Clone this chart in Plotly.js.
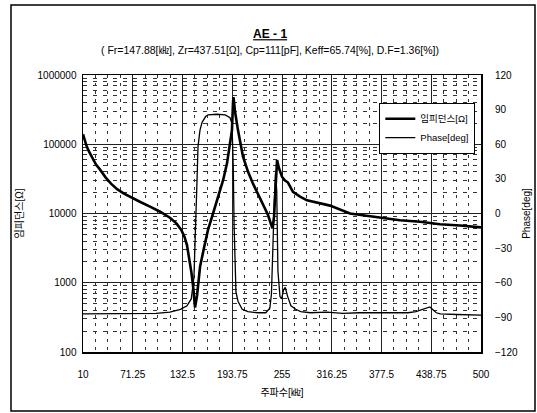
<!DOCTYPE html>
<html>
<head>
<meta charset="utf-8">
<script src="https://cdn.plot.ly/plotly-3.0.1.min.js"></script>
<style>html,body{margin:0;padding:0;background:#fff;}#chart{width:537px;height:413px;}</style>
</head>
<body>
<div id="chart"></div>
<script>
// ---- data ----
const freqZ = [10, 12, 14, 17, 21, 26, 31, 38, 44.5, 52, 60, 70, 80, 92.5, 105, 117, 125, 131, 135, 138, 141, 143.5, 145.5, 147.9, 150.4, 154.1, 159.0, 163.9, 170.1, 176.2, 182.4, 187.3, 191.0, 193.4, 194.7, 195.3, 197.1, 200.8, 207.0, 213.2, 219.3, 225.5, 231.6, 237.8, 241.5, 243.3, 245.2, 246.4, 247.6, 248.9, 251.3, 255.0, 258.7, 262.4, 268.5, 277.2, 285.8, 298.1, 314.1, 338.7, 375.7, 400.3, 424.9, 449.5, 474.2, 500];
const impedance = [140000, 115000, 97000, 80000, 64000, 51000, 43000, 33000, 27000, 22500, 19500, 16800, 14800, 12600, 10600, 8700, 7200, 5800, 4600, 3500, 2200, 1400, 900, 440, 650, 1700, 3200, 5800, 10000, 17000, 30000, 53000, 100000, 160000, 400000, 480000, 300000, 160000, 66000, 40000, 27000, 19000, 14000, 9500, 7000, 6100, 9000, 20000, 40000, 59000, 45000, 34000, 30000, 28000, 20500, 17500, 15500, 14500, 13000, 10000, 8800, 8000, 7600, 7000, 6700, 6300];

const freqP = [10, 50, 100, 117, 130, 138, 143.3, 146.6, 148, 149.5, 150.4, 151.6, 154, 156.6, 161, 164, 175, 185, 191, 193.4, 195, 196, 197, 198.3, 200.8, 206, 213, 225, 235, 240, 242, 243.5, 245.5, 247, 248.5, 250, 252.5, 254.5, 257, 259, 262, 266, 272, 278, 290, 310, 330, 350, 370, 390, 410, 420, 430, 437, 445, 450, 470, 500];
const phase = [-87, -87, -86.5, -85.5, -83, -80, -74, -55, -30, 0, 29, 58, 72, 79, 84, 85.5, 86, 85.5, 83, 78, 40, -10, -50, -68, -76, -83, -85, -86, -86, -82, -70, -30, 10, 35, 20, -50, -72, -74, -66, -64, -72, -80, -83, -85, -86, -85.5, -86.5, -86, -86, -85.5, -86, -85, -83, -81, -86, -87, -87.5, -88];

const xTickVals = [10, 71.25, 132.5, 193.75, 255, 316.25, 377.5, 438.75, 500];
const xTickText = ["10", "71.25", "132.5", "193.75", "255", "316.25", "377.5", "438.75", "500"];
const yTickVals = [100, 1000, 10000, 100000, 1000000];
const yTickText = ["100", "1000", "10000", "100000", "1000000"];
const y2TickVals = [-120, -90, -60, -30, 0, 30, 60, 90, 120];

const titleText = "<b><u>AE - 1</u></b>";
const subtitleText = "( Fr=147.88[㎑], Zr=437.51[Ω], Cp=111[pF], Keff=65.74[%], D.F=1.36[%])";
const seriesNames = ["임피던스[Ω]", "Phase[deg]"];
const xTitle = "주파수[㎑]";
const yTitle = "임피던스[Ω]";
const y2Title = "Phase[deg]";

// ---- chart ----
const FONT = "'Liberation Sans', Arial, 'Noto Sans CJK KR', sans-serif";

const traces = [
  {x: freqZ, y: impedance, name: seriesNames[0], type: 'scatter', mode: 'lines',
   line: {color: '#000', width: 2.6}, yaxis: 'y'},
  {x: freqP, y: phase, name: seriesNames[1], type: 'scatter', mode: 'lines',
   line: {color: '#000', width: 1.3}, yaxis: 'y2'}
];

const layout = {
  width: 537, height: 413,
  margin: {l: 83, r: 56, t: 75, b: 61},
  paper_bgcolor: '#fff', plot_bgcolor: '#fff',
  font: {family: FONT, size: 10, color: '#000'},
  showlegend: true,
  legend: {x: 0.744, y: 0.899, xanchor: 'left', yanchor: 'top', bgcolor: '#fff',
    bordercolor: '#000', borderwidth: 1.2, font: {size: 9.5, family: FONT},
    tracegroupgap: 0, itemwidth: 30},
  title: {text: titleText, x: 0.503, xanchor: 'center', y: 1 - 34/413, yanchor: 'middle',
    font: {size: 12, family: FONT, color: '#000'}},
  annotations: [
    {text: subtitleText, xref: 'paper', yref: 'paper', x: 0.47, y: (352-50)/277,
     xanchor: 'center', yanchor: 'middle', showarrow: false, font: {size: 10.5, family: FONT}}
  ],
  xaxis: {
    range: [10, 500], tickmode: 'array', tickvals: xTickVals, ticktext: xTickText,
    showgrid: true, gridcolor: '#222', gridwidth: 1,
    minor: {dtick: 15.3125, tick0: 10, showgrid: true, gridcolor: '#333', griddash: '3px,5px', gridwidth: 1},
    showline: true, linecolor: '#000', linewidth: 1.5, mirror: true,
    ticks: '', ticklabelstandoff: 12, zeroline: false,
    tickfont: {size: 10, family: FONT},
    title: {text: xTitle, standoff: 10, font: {size: 10, family: FONT}}
  },
  yaxis: {
    type: 'log', range: [2, 6], tickmode: 'array', tickvals: yTickVals, ticktext: yTickText,
    showgrid: true, gridcolor: '#222', gridwidth: 1,
    minor: {dtick: 'D1', showgrid: true, gridcolor: '#333', griddash: '4px,6px', gridwidth: 1},
    showline: true, linecolor: '#000', linewidth: 1.5, mirror: false,
    ticks: '', ticklabelstandoff: 3, zeroline: false,
    tickfont: {size: 10, family: FONT},
    title: {text: yTitle, standoff: 12, font: {size: 10, family: FONT}}
  },
  yaxis2: {
    overlaying: 'y', side: 'right', range: [-120, 120], tickmode: 'array', tickvals: y2TickVals,
    showgrid: false, zeroline: false, showline: true, linecolor: '#000', linewidth: 2,
    ticks: '', ticklabelstandoff: 10,
    tickfont: {size: 10, family: FONT},
    title: {text: y2Title, standoff: 6, font: {size: 10, family: FONT}}
  },
  shapes: [
    {type: 'rect', xref: 'paper', yref: 'paper',
     x0: (11-83)/398, x1: (535-83)/398, y0: (352-411)/277, y1: (352-5)/277,
     line: {color: '#000', width: 1.5}, fillcolor: 'rgba(0,0,0,0)', layer: 'below'}
  ]
};

Plotly.newPlot('chart', traces, layout, {staticPlot: true, displayModeBar: false});
</script>
</body>
</html>
